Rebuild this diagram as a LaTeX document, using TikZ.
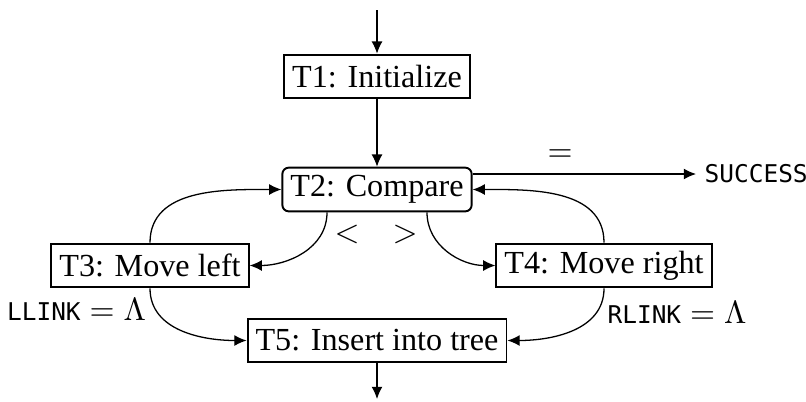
\documentclass[tikz,border=0pt]{standalone}
\usepackage{fontspec}
\setmainfont{Liberation Serif}
\newfontfamily\codefont{DejaVu Sans Mono}[Scale=0.76]
\usepackage{tikz}
\usetikzlibrary{arrows.meta,calc}

\begin{document}
\begin{tikzpicture}[x=0.311pt, y=0.311pt,
    every node/.style={font=\normalsize},
    stepbox/.style={draw, line width=0.6pt, inner xsep=2.5pt, inner ysep=0pt, minimum height=13.6pt},
    arr/.style={-{Latex[length=3.8pt,width=3.4pt]}, line width=0.4pt}]
  \useasboundingbox (0,0) rectangle (806,401);
  % steps of the algorithm
  \node[stepbox] (t1) at (377,324.5) {T1: Initialize};
  \node[stepbox, rounded corners=2pt] (t2) at (377,211.5) {T2: Compare};
  \node[stepbox] (t3) at (150,135.5) {T3: Move left};
  \node[stepbox] (t4) at (604,135.5) {T4: Move right};
  \node[stepbox] (t5) at (377,60.5) {T5: Insert into tree};
  \node[anchor=west, inner sep=2.5pt] (succ) at (696,227) {\codefont SUCCESS};
  \coordinate (top) at (377,391);
  \coordinate (bot) at (377,2);
  % labels
  \node (lt) at (347,166.5) {$<$};
  \node (gt) at (405,166.5) {$>$};
  \node (eq) at (560,245.5) {$=$};
  \node (llink) at (76.5,91) {{\codefont LLINK}${}={}\Lambda$};
  \node (rlink) at (677,88.5) {{\codefont RLINK}${}={}\Lambda$};
  % connectors
  \draw[arr] (top) -- (t1);
  \draw[arr] (t1) -- (t2);
  \draw[arr] (t2.east |- succ.west) -- (succ.west);
  \draw[arr] ($(t2.south)+(-50,0)$) to[out=-90, in=0] (t3);
  \draw[arr] ($(t2.south)+(50,0)$) to[out=-90, in=180] (t4);
  \draw[arr] (t3) to[out=90, in=180] (t2);
  \draw[arr] (t4) to[out=90, in=0] (t2);
  \draw[arr] (t3) to[out=-90, in=180] (t5);
  \draw[arr] (t4) to[out=-90, in=0] (t5);
  \draw[arr] (t5) -- (bot);
\end{tikzpicture}
\end{document}
